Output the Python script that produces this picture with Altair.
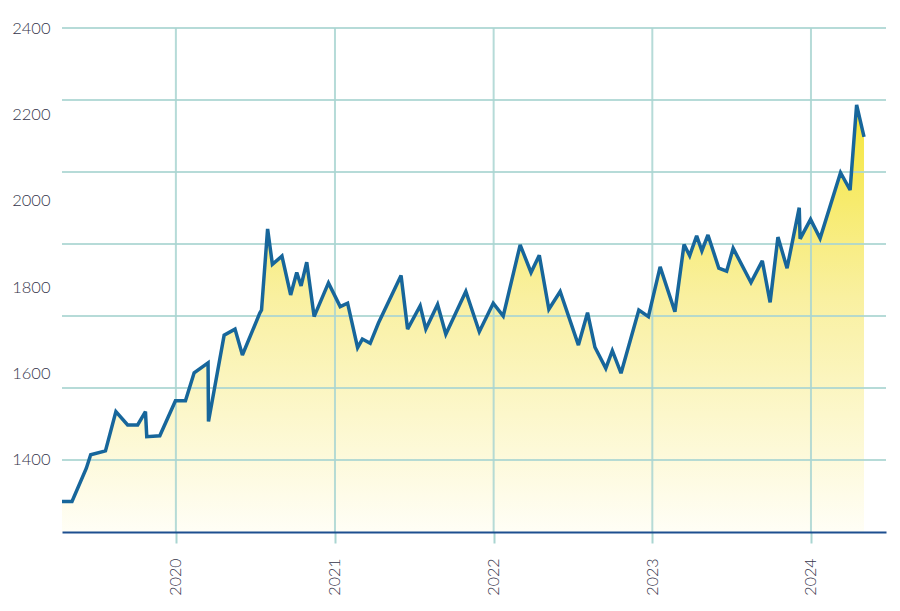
import altair as alt
import pandas as pd

# Values
DATES = [
    "2019-04-14", "2019-05-07", "2019-06-09", "2019-06-19", "2019-07-23", "2019-08-16",
    "2019-09-12", "2019-10-05", "2019-10-23", "2019-10-26", "2019-11-25", "2019-12-31",
    "2020-01-23", "2020-02-12", "2020-03-15", "2020-03-16", "2020-04-21", "2020-05-16",
    "2020-06-02", "2020-07-12", "2020-07-16", "2020-07-30", "2020-08-10", "2020-09-01",
    "2020-09-21", "2020-10-05", "2020-10-15", "2020-10-28", "2020-11-14", "2020-12-17",
    "2021-01-13", "2021-01-30", "2021-02-22", "2021-03-05", "2021-03-23", "2021-04-11",
    "2021-06-02", "2021-06-17", "2021-07-16", "2021-07-29", "2021-08-25", "2021-09-13",
    "2021-10-29", "2021-11-29", "2021-12-31", "2022-01-23", "2022-03-03", "2022-03-28",
    "2022-04-16", "2022-05-08", "2022-06-03", "2022-07-15", "2022-08-05", "2022-08-22",
    "2022-09-16", "2022-10-01", "2022-10-21", "2022-12-01", "2022-12-23", "2023-01-19",
    "2023-02-22", "2023-03-15", "2023-03-28", "2023-04-13", "2023-04-25", "2023-05-09",
    "2023-06-03", "2023-06-21", "2023-07-06", "2023-08-16", "2023-09-11", "2023-09-29",
    "2023-10-17", "2023-11-07", "2023-12-05", "2023-12-07", "2023-12-31", "2024-01-22",
    "2024-03-09", "2024-03-31", "2024-04-15", "2024-05-02",
]
PRICES = [
    1304, 1304, 1381, 1412, 1421, 1512,
    1481, 1481, 1512, 1454, 1456, 1537,
    1537, 1602, 1625, 1489, 1689, 1703,
    1643, 1740, 1747, 1935, 1853, 1872,
    1782, 1834, 1803, 1858, 1732, 1810,
    1755, 1763, 1660, 1680, 1670, 1717,
    1827, 1703, 1757, 1703, 1760, 1691,
    1790, 1697, 1763, 1733, 1898, 1834,
    1874, 1749, 1790, 1666, 1741, 1661,
    1612, 1653, 1601, 1747, 1732, 1847,
    1743, 1899, 1873, 1919, 1884, 1921,
    1844, 1837, 1890, 1811, 1861, 1765,
    1916, 1844, 1984, 1912, 1957, 1913,
    2065, 2025, 2222, 2148,
]
Y_LABELS = [1400, 1600, 1800, 2000, 2200, 2400]
Y_GRID = [1400, 1566.67, 1733.33, 1900, 2066.67, 2233.33, 2400]
YEAR_TICKS = ["2020-01-01", "2021-01-01", "2022-01-01", "2023-01-01", "2024-01-01"]
Y_MIN, Y_MAX = 1233.33, 2400
X_DOMAIN = ["2019-04-14", "2024-06-21T14:00:00"]

df = pd.DataFrame({"date": DATES, "price": PRICES})
hgrid = pd.DataFrame({"v": Y_GRID})
vgrid = pd.DataFrame({"d": YEAR_TICKS})

GRID_COLOR = "#a9d5d1"
LINE_COLOR = "#17669b"
AXIS_COLOR = "#1d4e8f"
TEXT_COLOR = "#34344a"

xscale = alt.Scale(domain=X_DOMAIN)
yscale = alt.Scale(domain=[Y_MIN, Y_MAX], zero=False, nice=False)

x_enc = alt.X(
    "date:T",
    scale=xscale,
    axis=alt.Axis(
        values=YEAR_TICKS,
        format="%Y",
        labelAngle=-90,
        grid=False,
        ticks=True,
        tickSize=11,
        tickColor=GRID_COLOR,
        tickWidth=2,
        domainColor=AXIS_COLOR,
        domainWidth=2,
        labelPadding=15,
        labelFont="Lato",
        labelFontWeight=300,
        labelFontSize=16,
        labelColor=TEXT_COLOR,
        title=None,
        zindex=1,
    ),
)
y_enc = alt.Y(
    "price:Q",
    scale=yscale,
    axis=alt.Axis(
        values=Y_LABELS,
        format="d",
        grid=False,
        ticks=False,
        domain=False,
        labelPadding=12,
        labelFont="Lato",
        labelFontWeight=300,
        labelFontSize=16.5,
        labelColor=TEXT_COLOR,
        title=None,
    ),
)

area = alt.Chart(df).mark_area(
    color=alt.Gradient(
        gradient="linear",
        stops=[
            alt.GradientStop(color="#fffef6", offset=0),
            alt.GradientStop(color="#f9f0a0", offset=0.55),
            alt.GradientStop(color="#f5e63a", offset=1),
        ],
        x1=0, x2=0, y1=1, y2=0,
    ),
    interpolate="linear",
).encode(x=x_enc, y=y_enc, y2=alt.datum(Y_MIN))

hrules = alt.Chart(hgrid).mark_rule(color=GRID_COLOR, strokeWidth=2, opacity=0.85).encode(
    y=alt.Y("v:Q", scale=yscale)
)
vrules = alt.Chart(vgrid).mark_rule(color=GRID_COLOR, strokeWidth=2, opacity=0.85).encode(
    x=alt.X("d:T", scale=xscale)
)

line = alt.Chart(df).mark_line(color=LINE_COLOR, strokeWidth=3.5, strokeJoin="miter", strokeMiterLimit=3).encode(
    x="date:T", y="price:Q"
)

chart = (
    alt.layer(area, hrules, vrules, line)
    .properties(
        width=824,
        height=504,
        background="white",
        autosize=alt.AutoSizeParams(type="none"),
        padding={"left": 54, "top": 20, "right": 6, "bottom": 70},
    )
    .configure_view(stroke=None, strokeWidth=0)
)

chart.save("out.html", embed_options={"renderer": "svg", "actions": False})
